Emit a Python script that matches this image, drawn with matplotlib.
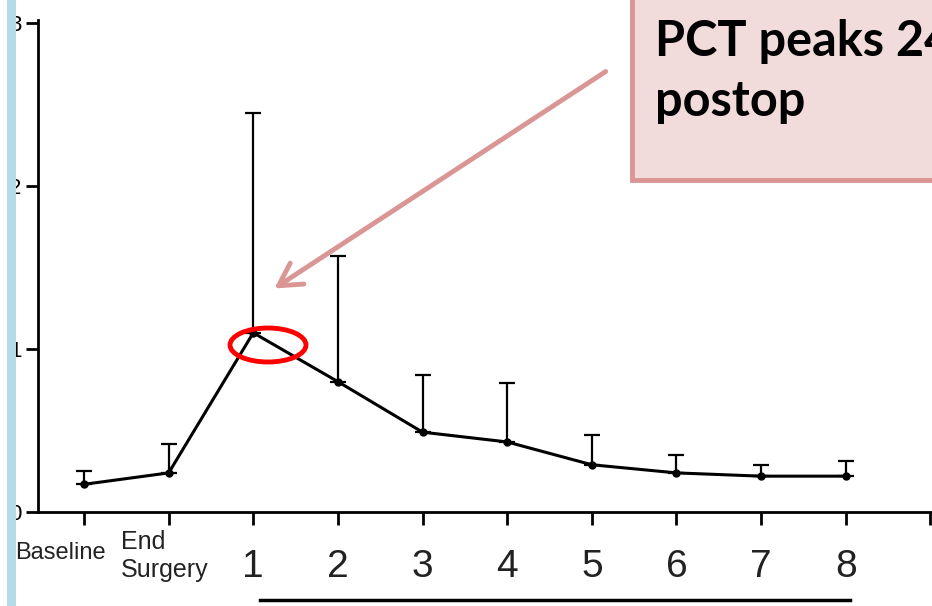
import matplotlib.pyplot as plt
from matplotlib.patches import Ellipse, Rectangle, FancyArrowPatch
from matplotlib.lines import Line2D

# procalcitonin (ng/ml) after surgery: mean and upper error
timepoints = ["Baseline", "End\nSurgery", "1", "2", "3", "4", "5", "6", "7", "8"]
pct_mean = [0.17, 0.24, 1.10, 0.80, 0.49, 0.43, 0.29, 0.24, 0.22, 0.22]
pct_err = [0.08, 0.18, 1.35, 0.77, 0.35, 0.36, 0.18, 0.11, 0.07, 0.09]
y_ticks = [0, 1, 2, 3]
note = "PCT peaks 24\npostop"

W, H = 932, 606


def px(x, y):
    # pixel position (from top-left) -> figure fraction
    return x / W, 1 - y / H


fig = plt.figure(figsize=(W / 100, H / 100), dpi=100)
ax = fig.add_axes([38 / W, (H - 512) / H, (W - 38) / W, (512 - 20) / H])

xs = list(range(len(timepoints)))
ax.errorbar(xs, pct_mean, yerr=[[0] * len(pct_err), pct_err], fmt="o-",
            color="black", ms=5, lw=2.2, elinewidth=1.6, capsize=6, capthick=1.6)

ax.set_xlim(-0.544, 10.02)
ax.set_ylim(0, 3.02)
for s in ["top", "right"]:
    ax.spines[s].set_visible(False)
ax.spines["left"].set_linewidth(2)
ax.spines["bottom"].set_linewidth(2)

ax.set_yticks(y_ticks)
ax.set_yticklabels([str(t) for t in y_ticks], fontsize=16, family="Liberation Sans")
ax.tick_params(axis="y", length=9, width=2, pad=3)
ax.set_xticks(list(range(len(timepoints) + 1)))
ax.set_xticklabels([])
ax.tick_params(axis="x", length=9, width=2)

# x labels drawn by hand: two small word labels, then day numbers
ax.text(-0.28, -0.25, timepoints[0], ha="center", va="center", fontsize=17,
        family="Liberation Sans", color="#222222")
ax.text(0.44, -0.27, timepoints[1], ha="left", va="center", fontsize=18,
        family="Liberation Sans", color="#222222", linespacing=1.2)
for i, lab in enumerate(timepoints[2:], start=2):
    ax.text(i, -0.335, lab, ha="center", va="center", fontsize=28,
            family="Liberation Sans", color="#222222")

# bracket line under the day numbers
fig.add_artist(Line2D([260 / W, 850 / W], [px(0, 600)[1]] * 2,
                      color="black", lw=2.5))

# peak highlight and callout
ex, ey = px(268, 345)
fig.add_artist(Ellipse((ex, ey), 76 / W, 34 / H, fill=False,
                       edgecolor="red", lw=3.5))
fig.add_artist(FancyArrowPatch(px(608, 70), px(272, 290),
                               arrowstyle="->,head_length=16,head_width=9",
                               color="#d99694", lw=3.5, mutation_scale=1))
bx, by = px(632, 180)
fig.add_artist(Rectangle((bx, by), 0.5, 0.5, facecolor="#f2dcdb",
                         edgecolor="#d99694", lw=3.5))
fig.text(*px(655, 19), note, fontsize=35, fontweight="bold", family="Lato",
         va="top", ha="left", linespacing=1.4)

# side accent bar
fig.add_artist(Rectangle((7 / W, 0), 9 / W, 1, facecolor="#b4dce6",
                         edgecolor="none", zorder=10))

fig.savefig("out.png", dpi=100)
